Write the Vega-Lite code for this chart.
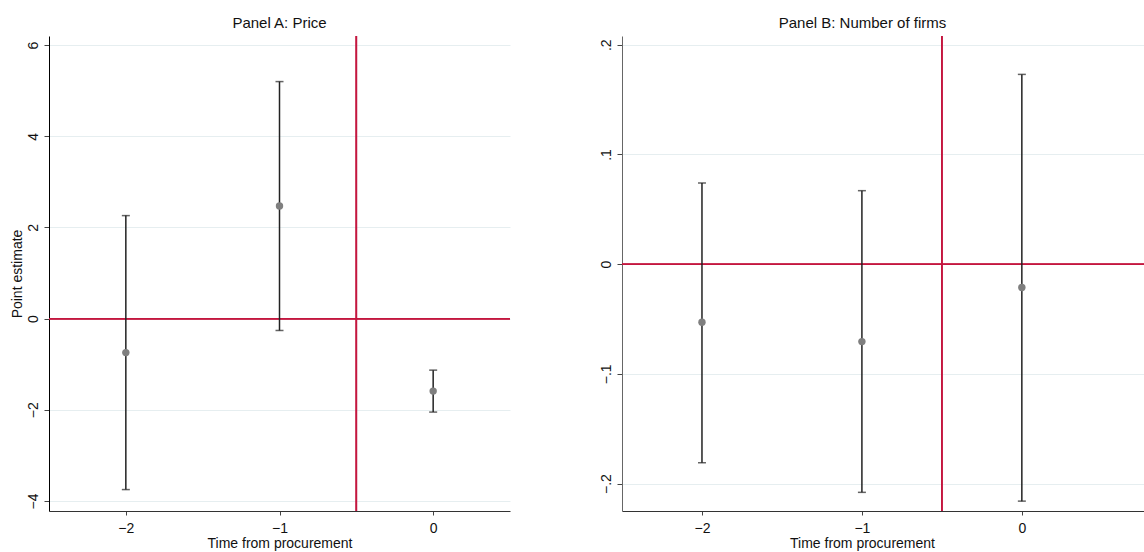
{
  "$schema": "https://vega.github.io/schema/vega-lite/v6.json",
  "background": "white",
  "padding": {"left": 10, "top": 16, "right": 0, "bottom": 1},
  "spacing": 112,
  "bounds": "flush",
  "config": {
    "view": {"stroke": null},
    "font": "Liberation Sans",
    "title": {"fontSize": 15, "fontWeight": "normal", "color": "#111", "offset": 4},
    "axis": {
      "labelFont": "Liberation Sans",
      "titleFont": "Liberation Sans",
      "labelFontSize": 14,
      "titleFontSize": 14,
      "titleFontWeight": "normal",
      "labelColor": "#111",
      "titleColor": "#111",
      "domainColor": "#333",
      "tickColor": "#444",
      "tickSize": 5,
      "gridColor": "#e6eef0",
      "gridWidth": 1
    }
  },
  "datasets": {
    "price": [
      {"t": -2, "est": -0.745, "lo": -3.75, "hi": 2.26},
      {"t": -1, "est": 2.47, "lo": -0.26, "hi": 5.2},
      {"t": 0, "est": -1.59, "lo": -2.05, "hi": -1.13}
    ],
    "firms": [
      {"t": -2, "est": -0.053, "lo": -0.181, "hi": 0.074},
      {"t": -1, "est": -0.0706, "lo": -0.208, "hi": 0.067},
      {"t": 0, "est": -0.0213, "lo": -0.216, "hi": 0.173}
    ]
  },
  "hconcat": [
    {
      "title": {"text": "Panel A: Price"},
      "width": 461,
      "height": 475,
      "data": {"name": "price"},
      "layer": [
        {"mark": {"type": "rule", "color": "#c4163f", "strokeWidth": 1.5}, "encoding": {"y": {"datum": 0, "type": "quantitative", "title": "Point estimate"}}},
        {"mark": {"type": "rule", "color": "#c4163f", "strokeWidth": 1.5}, "encoding": {"x": {"datum": -0.5, "type": "quantitative", "title": "Time from procurement"}}},
        {
          "mark": {"type": "errorbar", "ticks": {"size": 8, "thickness": 1.5, "color": "#222"}, "rule": {"strokeWidth": 1.5, "color": "#222"}},
          "encoding": {
            "x": {"field": "t", "type": "quantitative", "title": "Time from procurement"},
            "y": {"field": "lo", "type": "quantitative", "title": "Point estimate"},
            "y2": {"field": "hi"}
          }
        },
        {
          "mark": {"type": "point", "filled": true, "shape": "circle", "size": 55, "color": "#7f7f7f", "opacity": 1},
          "encoding": {
            "x": {"field": "t", "type": "quantitative", "title": "Time from procurement",
              "scale": {"domain": [-2.5, 0.5], "nice": false, "zero": false},
              "axis": {"values": [-2, -1, 0], "grid": false, "tickSize": 4, "labelPadding": 6, "titlePadding": 1, "format": "d"}},
            "y": {"field": "est", "type": "quantitative", "title": "Point estimate",
              "scale": {"domain": [-4.22, 6.2], "nice": false, "zero": false},
              "axis": {"values": [-4, -2, 0, 2, 4, 6], "grid": true, "labelAngle": 270, "labelAlign": "center", "labelBaseline": "bottom", "labelPadding": 4, "titlePadding": 2, "domainColor": "#000", "format": "d"}}
          }
        }
      ]
    },
    {
      "title": {"text": "Panel B: Number of firms", "dx": -21},
      "width": 523,
      "height": 475,
      "data": {"name": "firms"},
      "layer": [
        {"mark": {"type": "rule", "color": "#c4163f", "strokeWidth": 1.5}, "encoding": {"y": {"datum": 0, "type": "quantitative", "title": null}}},
        {"mark": {"type": "rule", "color": "#c4163f", "strokeWidth": 1.5}, "encoding": {"x": {"datum": -0.5, "type": "quantitative", "title": "Time from procurement"}}},
        {
          "mark": {"type": "errorbar", "ticks": {"size": 8, "thickness": 1.5, "color": "#222"}, "rule": {"strokeWidth": 1.5, "color": "#222"}},
          "encoding": {
            "x": {"field": "t", "type": "quantitative", "title": "Time from procurement"},
            "y": {"field": "lo", "type": "quantitative", "title": null},
            "y2": {"field": "hi"}
          }
        },
        {
          "mark": {"type": "point", "filled": true, "shape": "circle", "size": 55, "color": "#7f7f7f", "opacity": 1},
          "encoding": {
            "x": {"field": "t", "type": "quantitative", "title": "Time from procurement",
              "scale": {"domain": [-2.5, 0.77], "nice": false, "zero": false},
              "axis": {"values": [-2, -1, 0], "grid": false, "tickSize": 4, "labelPadding": 6, "titlePadding": 1, "format": "d", "titleX": 240}},
            "y": {"field": "est", "type": "quantitative", "title": null,
              "scale": {"domain": [-0.225, 0.208], "nice": false, "zero": false},
              "axis": {"values": [-0.2, -0.1, 0, 0.1, 0.2], "grid": true, "labelAngle": 270, "labelAlign": "center", "labelBaseline": "bottom", "labelPadding": 4, "domainColor": "#666",
                "labelExpr": "datum.value == 0 ? '0' : replace(format(datum.value, '.1f'), '0.', '.')"}}
          }
        }
      ]
    }
  ]
}
